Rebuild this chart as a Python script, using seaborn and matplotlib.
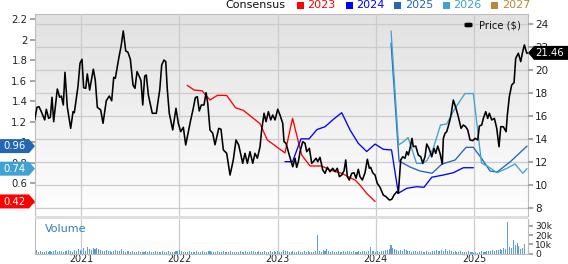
import numpy as np
import pandas as pd
import matplotlib
matplotlib.use("Agg")
import matplotlib.pyplot as plt
import seaborn as sns
from matplotlib.patches import Polygon, Rectangle, FancyBboxPatch
from matplotlib.transforms import IdentityTransform
from matplotlib.colors import LinearSegmentedColormap

sns.set_theme(style="white")
plt.rcParams['font.family'] = ['DejaVu Sans']

# ---------------- data (decimal years) ----------------
price_t = [2020.529, 2020.552, 2020.573, 2020.596, 2020.631, 2020.647, 2020.671, 2020.688, 2020.705, 2020.722,
           2020.759, 2020.783, 2020.800, 2020.820, 2020.837, 2020.861, 2020.895, 2020.919, 2020.932, 2020.969,
           2020.990, 2021.010, 2021.027, 2021.048, 2021.064, 2021.088, 2021.125, 2021.145, 2021.166, 2021.200,
           2021.224, 2021.257, 2021.288, 2021.312, 2021.333, 2021.349, 2021.387, 2021.407, 2021.430, 2021.455,
           2021.478, 2021.502, 2021.529, 2021.549, 2021.570, 2021.597, 2021.610, 2021.628, 2021.648, 2021.664,
           2021.685, 2021.725, 2021.766, 2021.801, 2021.821, 2021.844, 2021.862, 2021.878, 2021.898, 2021.933,
           2021.966, 2021.990, 2022.014, 2022.041, 2022.065, 2022.116, 2022.142, 2022.163, 2022.183, 2022.203,
           2022.224, 2022.251, 2022.272, 2022.289, 2022.312, 2022.340, 2022.363, 2022.401, 2022.424, 2022.448,
           2022.482, 2022.516, 2022.549, 2022.577, 2022.604, 2022.645, 2022.668, 2022.692, 2022.719, 2022.747,
           2022.770, 2022.794, 2022.821, 2022.838, 2022.862, 2022.882, 2022.906, 2022.930, 2022.950, 2022.974,
           2023.001, 2023.024, 2023.052, 2023.065, 2023.085, 2023.109, 2023.133, 2023.154, 2023.177, 2023.194,
           2023.211, 2023.228, 2023.255, 2023.279, 2023.296, 2023.323, 2023.347, 2023.363, 2023.391, 2023.408,
           2023.431, 2023.459, 2023.482, 2023.506, 2023.533, 2023.561, 2023.584, 2023.607, 2023.628, 2023.652,
           2023.676, 2023.693, 2023.709, 2023.729, 2023.754, 2023.777, 2023.798, 2023.821, 2023.838, 2023.862,
           2023.889, 2023.913, 2023.933, 2023.947, 2023.967, 2023.991, 2024.014, 2024.042, 2024.075, 2024.103,
           2024.136, 2024.161, 2024.184, 2024.212, 2024.228, 2024.252, 2024.273, 2024.296, 2024.313, 2024.330,
           2024.347, 2024.367, 2024.380, 2024.405, 2024.431, 2024.456, 2024.476, 2024.499, 2024.517, 2024.540,
           2024.568, 2024.591, 2024.608, 2024.629, 2024.652, 2024.675, 2024.686, 2024.703, 2024.720, 2024.737,
           2024.761, 2024.787, 2024.815, 2024.838, 2024.866, 2024.889, 2024.913, 2024.934, 2024.957, 2024.985,
           2025.008, 2025.036, 2025.052, 2025.076, 2025.093, 2025.117, 2025.137, 2025.154, 2025.178, 2025.205,
           2025.229, 2025.252, 2025.270, 2025.296, 2025.324, 2025.337, 2025.357, 2025.381, 2025.405, 2025.422,
           2025.449, 2025.473, 2025.493, 2025.510, 2025.534, 2025.550]
price_v = [15.63, 16.73, 16.78, 16.35, 15.63, 16.56, 15.77, 15.86, 17.60, 15.48,
           18.32, 17.60, 17.71, 16.93, 19.77, 16.73, 14.90, 16.35, 16.26, 18.52,
           20.56, 20.90, 18.43, 18.38, 19.63, 18.23, 20.04, 19.10, 16.73, 16.50,
           15.34, 17.30, 17.71, 17.30, 19.34, 19.25, 21.13, 22.00, 23.37, 21.63,
           21.51, 20.90, 18.67, 18.38, 19.83, 19.34, 19.04, 16.93, 19.45, 19.54,
           17.80, 16.21, 16.21, 18.26, 20.41, 20.84, 20.70, 18.26, 16.21, 14.76,
           16.64, 15.34, 14.61, 14.99, 13.45, 15.63, 16.64, 17.57, 17.65, 16.41,
           16.93, 16.93, 18.00, 17.08, 14.76, 14.47, 13.47, 14.90, 14.82, 13.02,
           12.73, 10.84, 12.15, 13.89, 13.45, 11.86, 12.73, 11.86, 12.87, 11.86,
           12.73, 12.30, 13.30, 14.76, 16.21, 15.48, 16.35, 15.63, 16.06, 15.63,
           16.56, 16.06, 15.34, 13.74, 13.60, 12.87, 12.15, 11.56, 12.30, 11.51,
           12.00, 12.87, 13.74, 13.60, 12.87, 13.16, 11.86, 12.00, 12.30, 12.00,
           12.38, 11.28, 10.99, 11.51, 11.13, 11.43, 11.13, 11.43, 10.70, 10.84,
           11.22, 12.15, 10.70, 10.41, 10.99, 11.04, 10.56, 11.34, 10.70, 10.41,
           11.04, 12.21, 11.43, 11.51, 11.04, 10.84, 10.12, 9.77, 9.10, 8.96,
           8.67, 8.73, 9.10, 9.39, 9.25, 12.15, 12.43, 12.30, 12.87, 12.58,
           13.16, 14.03, 13.30, 13.36, 12.58, 12.43, 11.86, 12.43, 13.54, 13.16,
           12.43, 13.16, 12.73, 13.36, 12.73, 11.80, 14.03, 14.47, 14.61, 15.10,
           15.91, 17.36, 16.64, 15.91, 14.90, 15.19, 15.04, 14.76, 13.89, 13.83,
           14.03, 13.89, 15.10, 15.19, 15.77, 16.35, 15.77, 16.21, 15.63, 15.77,
           14.90, 13.30, 15.04, 15.04, 14.61, 16.06, 17.65, 18.67, 18.87, 20.99,
           21.43, 20.70, 21.57, 22.15, 21.43, 21.46]

eps2023_t = [2022.081, 2022.150, 2022.231, 2022.312, 2022.389, 2022.482, 2022.572, 2022.651, 2022.821, 2022.895,
             2023.075, 2023.152, 2023.211, 2023.245, 2023.330, 2023.449, 2023.533, 2023.652, 2023.719, 2023.788,
             2023.838, 2023.906, 2023.991]
eps2023_v = [1.553, 1.507, 1.500, 1.410, 1.456, 1.454, 1.334, 1.309, 1.179, 1.020,
             0.893, 1.231, 1.003, 0.873, 0.766, 0.766, 0.727, 0.695, 0.661, 0.629,
             0.580, 0.499, 0.42]

eps2024_t = [2023.075, 2023.152, 2023.238, 2023.320, 2023.401, 2023.482, 2023.567, 2023.652, 2023.737, 2023.821,
             2023.906, 2023.991, 2024.075, 2024.159, 2024.228, 2024.313, 2024.415, 2024.489, 2024.568, 2024.686,
             2024.787, 2024.889, 2024.991]
eps2024_v = [0.808, 0.808, 1.031, 1.031, 1.122, 1.149, 1.221, 1.286, 1.117, 0.987,
             0.907, 0.980, 0.929, 0.922, 0.500, 0.548, 0.564, 0.558, 0.656, 0.678,
             0.700, 0.749, 0.749]

eps2025_t = [2024.154, 2024.235, 2024.347, 2024.449, 2024.571, 2024.672, 2024.805, 2024.917, 2024.991, 2025.079,
             2025.161, 2025.232, 2025.364, 2025.537]
eps2025_v = [1.966, 0.815, 0.756, 0.717, 0.695, 0.785, 0.824, 0.948, 0.948, 0.834,
             0.717, 0.707, 0.805, 0.96]

eps2026_t = [2024.154, 2024.230, 2024.281, 2024.327, 2024.413, 2024.479, 2024.520, 2024.584, 2024.657, 2024.720,
             2024.805, 2024.906, 2024.991, 2025.074, 2025.143, 2025.232, 2025.331, 2025.415, 2025.494, 2025.537]
eps2026_v = [2.083, 0.971, 1.003, 1.044, 0.792, 0.792, 0.820, 0.939, 1.166, 1.176,
             1.329, 1.473, 1.473, 0.795, 0.759, 0.700, 0.743, 0.785, 0.695, 0.74]

# weekly volume (thousands), starting week of 2020-07-13
vol_start = "2020-07-13"
vol_k = [3, 4, 2, 3, 2, 2, 3, 2, 3, 2, 3, 4, 2, 3, 3, 2, 3, 3, 4, 3, 2, 4, 3, 5,
         4, 3, 6, 3, 7, 5, 4, 6, 5, 6, 5, 4, 3, 3, 4, 3, 3, 2, 3, 4, 3, 3, 5, 3, 2, 3, 3, 2, 3, 2, 2, 3,
         2, 2, 2, 3, 2, 3, 2, 2, 3, 2, 2, 2, 3, 2, 2, 3, 2, 2, 2, 3,
         3, 4, 3, 2, 2, 2, 3, 2, 2, 2, 3, 2, 2, 3, 2, 2, 3, 3, 2, 2, 2, 3, 2, 2, 3, 2, 2, 2, 3, 2,
         2, 2, 2, 3, 2, 2, 3, 2, 2, 3, 3, 2, 2, 3, 2, 2, 3, 2, 2, 3, 2, 3,
         2, 3, 2, 2, 4, 3, 3, 2, 2, 3, 2, 2, 3, 2, 2, 3, 2, 3, 2, 2, 2, 3, 20, 3, 2, 4,
         3, 5, 3, 2, 3, 2, 2, 3, 2, 2, 3, 2, 3, 3, 2, 3, 2, 2, 3, 2, 3, 3, 2, 3, 7, 3,
         3, 2, 3, 2, 3, 3, 4, 4, 5, 9, 6, 5, 4, 3, 4, 3, 5, 4, 3, 3, 2, 3, 3, 2, 3, 3,
         2, 2, 3, 2, 2, 3, 3, 4, 3, 3, 4, 3, 5, 3, 4, 3, 2, 3, 2, 2, 3, 2, 2, 2, 3, 2,
         2, 1, 2, 1, 2, 3, 2, 2, 3, 3, 3, 4, 3, 4, 4, 5, 4, 6, 5, 34, 7, 6, 15, 9, 11, 8, 5, 6, 10]

years = [2021, 2022, 2023, 2024, 2025]
price_ticks = [8, 10, 12, 14, 16, 18, 20, 22, 24]
eps_ticks = [0.4, 0.6, 0.8, 1.0, 1.2, 1.4, 1.6, 1.8, 2.0, 2.2]
vol_ticks = [0, 10000, 20000, 30000]
vol_labels = ["0", "10k", "20k", "30k"]
legend_years = ["2023", "2024", "2025", "2026", "2027"]
legend_colors = ["#ff0000", "#0000ff", "#2466b4", "#3fa2d3", "#b8893a"]
tags = [(0.96, "0.96", "#2466b4"), (0.74, "0.74", "#3fa2d3"), (0.42, "0.42", "#ff0000")]
last_price = 21.46

# ---------------- layout ----------------
W, H = 568, 264
fig = plt.figure(figsize=(W / 100, H / 100), dpi=100)
fig.patch.set_facecolor("white")
L, R, T, B = 35, 528, 14, 216
VT, VB = 219, 253.5


def rect(l, t, r, b):
    return [l / W, 1 - b / H, (r - l) / W, (b - t) / H]


xlim = (2020.532, 2025.547)
plim = (7.28, 24.84)
elim = (0.278, 2.249)
grid_c = "#cbcbcb"
spine_c = "#bdbdbd"

ax_bg = fig.add_axes(rect(L, T, R, B))
ax_e = fig.add_axes(rect(L, T, R, B))
ax_p = fig.add_axes(rect(L, T, R, B))
ax_v = fig.add_axes(rect(L, VT, R, VB))
ax_bg.set_zorder(0)
ax_e.set_zorder(1)
ax_p.set_zorder(2)

# background gradient + grid (price scale, right axis)
cmap = LinearSegmentedColormap.from_list("bg", ["#e1e1e1", "#ffffff"])
ax_bg.imshow(np.linspace(0, 1, 256).reshape(-1, 1), cmap=cmap, aspect="auto",
             extent=(xlim[0], xlim[1], plim[0], plim[1]), origin="upper", zorder=0)
ax_bg.set_xlim(xlim)
ax_bg.set_ylim(plim)
ax_bg.set_xticks(years)
ax_bg.set_yticks(price_ticks)
ax_bg.set_yticklabels([str(v) for v in price_ticks])
ax_bg.grid(True, color=grid_c, lw=0.9)
ax_bg.set_axisbelow(False)
ax_bg.yaxis.tick_right()
ax_bg.tick_params(axis="y", labelsize=7.5, length=3.5, color="#9a9a9a", pad=1.5, labelcolor="#222")
ax_bg.tick_params(axis="x", bottom=False, labelbottom=False)
for s in ["left", "top", "right"]:
    ax_bg.spines[s].set_color(spine_c)
    ax_bg.spines[s].set_linewidth(0.8)
ax_bg.spines["bottom"].set_visible(False)

# EPS consensus lines (left axis)
ax_e.patch.set_visible(False)
for t, v, c in [(eps2023_t, eps2023_v, legend_colors[0]), (eps2024_t, eps2024_v, legend_colors[1]),
                (eps2025_t, eps2025_v, legend_colors[2]), (eps2026_t, eps2026_v, legend_colors[3])]:
    sns.lineplot(x=t, y=v, ax=ax_e, color=c, lw=0.95, estimator=None, sort=False, legend=False)
ax_e.set_xlim(xlim)
ax_e.set_ylim(elim)
ax_e.set_yticks(eps_ticks)
ax_e.set_yticklabels([f"{v:g}" for v in eps_ticks])
ax_e.tick_params(axis="y", labelsize=7.2, length=3.5, color="#9a9a9a", pad=2, labelcolor="#222",
                 left=True, labelleft=True, right=False, labelright=False)
ax_e.tick_params(axis="x", bottom=False, labelbottom=False)
ax_e.set_xlabel("")
ax_e.set_ylabel("")
for s in ax_e.spines.values():
    s.set_visible(False)

# price line (right axis scale)
sns.lineplot(x=price_t, y=price_v, ax=ax_p, color="black", lw=1.15, estimator=None, sort=False, legend=False)
ax_p.set_xlim(xlim)
ax_p.set_ylim(plim)
ax_p.set_axis_off()

# volume
vol_dates = pd.date_range(vol_start, periods=len(vol_k), freq="7D")
vol_t = vol_dates.year + (vol_dates.dayofyear - 1) / 365.25
ax_v.bar(vol_t, np.array(vol_k) * 1000, width=0.0105, color="#5c9fd8", linewidth=0, zorder=2)
ax_v.set_xlim(xlim)
ax_v.set_ylim(0, 37500)
ax_v.set_xticks(years)
ax_v.set_xticklabels([str(y) for y in years])
ax_v.set_yticks(vol_ticks)
ax_v.set_yticklabels(vol_labels)
ax_v.yaxis.tick_right()
ax_v.grid(True, axis="x", color=grid_c, lw=0.9, zorder=0)
ax_v.grid(False, axis="y")
ax_v.set_axisbelow(True)
ax_v.tick_params(axis="y", labelsize=6.6, length=3.5, color="#9a9a9a", pad=1.5, labelcolor="#222")
ax_v.tick_params(axis="x", labelsize=6.9, length=0, pad=0.6, labelcolor="#222")
for s in ["left", "bottom", "right"]:
    ax_v.spines[s].set_color(spine_c)
    ax_v.spines[s].set_linewidth(0.8)
ax_v.spines["top"].set_visible(False)
fig.text(45 / W, 1 - 228.7 / H, "Volume", fontsize=8, color="#2f7fc1", va="center", ha="left")
# separator band between panels
fig.add_artist(Rectangle((L / W, 1 - 219 / H), (R - L) / W, 3 / H, transform=fig.transFigure,
                         facecolor="#dedede", edgecolor="none"))

# top legend
fig.text(285 / W, 1 - 5.5 / H, "Consensus", fontsize=8, ha="right", va="center", color="#111")
for i, (yl, col) in enumerate(zip(legend_years, legend_colors)):
    x0 = 297 + 48.6 * i
    fig.add_artist(Rectangle((x0 / W, 1 - 9.3 / H), 7 / W, 7.2 / H, transform=fig.transFigure,
                             facecolor=col, edgecolor="none"))
    fig.text((x0 + 10.5) / W, 1 - 5.5 / H, yl, fontsize=8, ha="left", va="center", color=col)

# price legend inside plot
fig.add_artist(FancyBboxPatch((464.5 / W, 1 - 27.3 / H), 8 / W, 4.6 / H, boxstyle="round,pad=0,rounding_size=0.004",
                              transform=fig.transFigure, facecolor="black", edgecolor="none"))
fig.text(479 / W, 1 - 25 / H, "Price ($)", fontsize=7.2, ha="left", va="center", color="#111")

# value tags
ident = IdentityTransform()
for val, lab, col in tags:
    yc = ax_e.transData.transform((xlim[0], val))[1]
    poly = Polygon([(0, yc - 7), (29, yc - 7), (35, yc), (29, yc + 7), (0, yc + 7)], closed=True,
                   transform=ident, facecolor=col, edgecolor="none", zorder=10)
    fig.add_artist(poly)
    fig.text(14.5, yc - 0.3, lab, transform=ident, fontsize=7.2, color="white", ha="center", va="center",
             zorder=11)

yc = ax_p.transData.transform((xlim[1], last_price))[1]
fig.add_artist(Polygon([(528, yc), (534, yc - 7), (568, yc - 7), (568, yc + 7), (534, yc + 7)], closed=True,
                       transform=ident, facecolor="black", edgecolor="none", zorder=10))
fig.text(550, yc - 0.3, f"{last_price:.2f}", transform=ident, fontsize=7.2, color="white", ha="center",
         va="center", zorder=11)

fig.savefig("out.png", dpi=100)
